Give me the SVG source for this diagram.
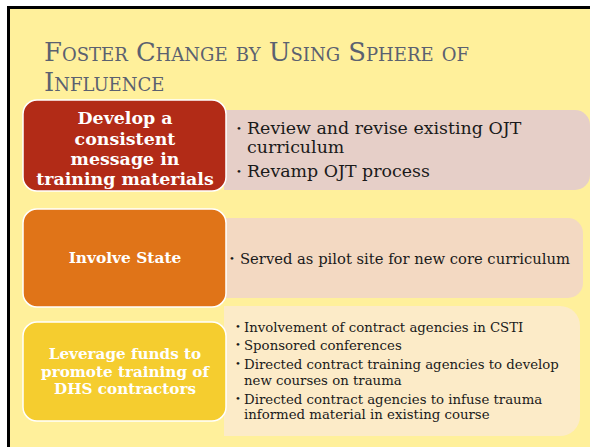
<svg xmlns="http://www.w3.org/2000/svg" width="590" height="447" viewBox="0 0 590 447">
<style>
.title{font-family:"DejaVu Serif","Liberation Serif",serif;font-size:25.8px;font-variant:small-caps;fill:#5B6170}
.hd{font-family:"DejaVu Serif","Liberation Serif",serif;font-weight:bold;fill:#FFFFFF;text-anchor:middle}
.bd{font-family:"DejaVu Serif","Liberation Serif",serif;fill:#1A1A1A}
.bu{font-family:"DejaVu Serif","Liberation Serif",serif;fill:#1A1A1A;font-size:10px}
.box{stroke:#FFFFFF;stroke-width:1.5}
</style>
<rect x="0" y="0" width="590" height="447" fill="#FFFFFF"/>
<rect x="8.5" y="7.5" width="600" height="460" fill="#FFF09B" stroke="#000000" stroke-width="3"/>
<g id="title">
<text class="title" x="44" y="61">Foster Change by Using Sphere of</text>
<text class="title" x="44" y="91">Influence</text>
</g>
<g id="connectors"></g>
<g id="row1">
<path d="M224 110 H575 A15 15 0 0 1 590 125 V175 A15 15 0 0 1 575 190 H224 Z" fill="#E6CFC8"/>
<rect class="box" x="23" y="100" width="203" height="91" rx="14" fill="#B22B17"/>
<text class="hd" font-size="17.4" x="125" y="124">Develop a</text>
<text class="hd" font-size="17.4" x="125" y="145">consistent</text>
<text class="hd" font-size="17.4" x="125" y="165">message in</text>
<text class="hd" font-size="17.4" x="125" y="185">training materials</text>
<text class="bu" x="236" y="132">•</text>
<text class="bd" font-size="17.4" x="247" y="134">Review and revise existing OJT</text>
<text class="bd" font-size="17.4" x="247" y="153">curriculum</text>
<text class="bu" x="236" y="175">•</text>
<text class="bd" font-size="17.4" x="247" y="177">Revamp OJT process</text>
</g>
<g id="row2">
<path d="M224 218 H568 A15 15 0 0 1 583 233 V283 A15 15 0 0 1 568 298 H224 Z" fill="#F3D9C2"/>
<rect class="box" x="23" y="209" width="203" height="98" rx="14" fill="#E07418"/>
<text class="hd" font-size="15.4" x="125" y="263">Involve State</text>
<text class="bu" x="229" y="262">•</text>
<text class="bd" font-size="14.75" x="240" y="264">Served as pilot site for new core curriculum</text>
</g>
<g id="row3">
<path d="M224 306 H560 A20 20 0 0 1 580 326 V416 A20 20 0 0 1 560 436 H224 Z" fill="#FCEBC8"/>
<rect class="box" x="23" y="322" width="203" height="99" rx="14" fill="#F5CD2F"/>
<text class="hd" font-size="15.2" x="125" y="359">Leverage funds to</text>
<text class="hd" font-size="15.2" x="125" y="377">promote training of</text>
<text class="hd" font-size="15.2" x="125" y="394">DHS contractors</text>
<text class="bu" font-size="9" x="235" y="330">•</text>
<text class="bd" font-size="13.3" x="244" y="332">Involvement of contract agencies in CSTI</text>
<text class="bu" font-size="9" x="235" y="348">•</text>
<text class="bd" font-size="13.3" x="244" y="350">Sponsored conferences</text>
<text class="bu" font-size="9" x="235" y="367">•</text>
<text class="bd" font-size="13.3" x="244" y="369">Directed contract training agencies to develop</text>
<text class="bd" font-size="13.3" x="244" y="385">new courses on trauma</text>
<text class="bu" font-size="9" x="235" y="402">•</text>
<text class="bd" font-size="13.3" x="244" y="404">Directed contract agencies to infuse trauma</text>
<text class="bd" font-size="13.3" x="244" y="419">informed material in existing course</text>
</g>
</svg>
